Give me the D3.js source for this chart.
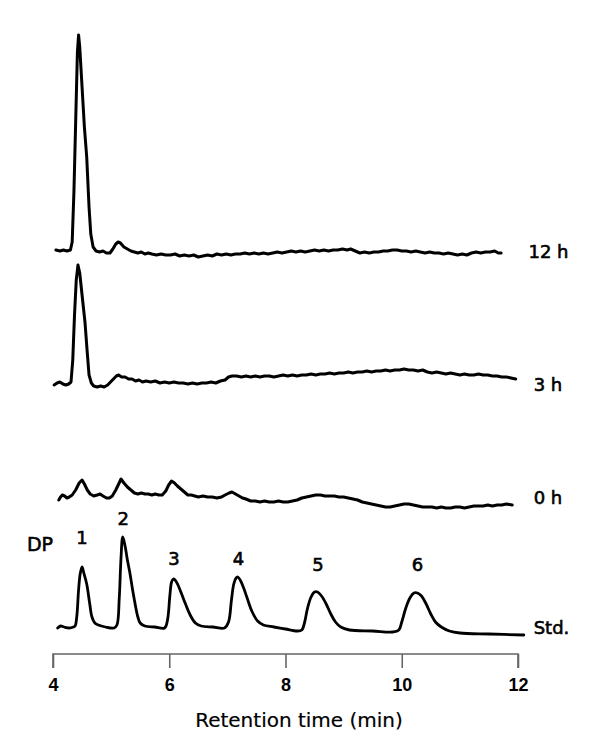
<!DOCTYPE html>
<html><head><meta charset="utf-8">
<script src="https://cdn.jsdelivr.net/npm/d3@7/dist/d3.min.js"></script>
<style>body{margin:0;background:#fff}svg{display:block}</style>
</head><body>
<svg id="chart" width="597" height="745"></svg>
<script>
// Retention time ticks (min)
const xTicks = [4, 6, 8, 10, 12];
// Trace names and vertical offsets (signal units)
const traceNames = ["12 h", "3 h", "0 h", "Std."];
const traceOffsets = [376, 243, 130, 0];
// Standard DP peaks
const dpLabels = ["1", "2", "3", "4", "5", "6"];
const dpTimes = [4.50, 5.21, 6.08, 7.19, 8.56, 10.27];
const dpLabelSignal = [89, 108, 68, 68, 62, 62];

const trace12h = [[4.05,2],[4.12,1],[4.18,2],[4.24,1],[4.30,2],[4.33,10],[4.36,60],[4.39,130],[4.42,200],[4.44,217],[4.46,205],[4.50,165],[4.54,125],[4.58,95],[4.62,45],[4.65,18],[4.69,5],[4.74,1],[4.80,0],[4.86,1],[4.92,-1],[4.98,-1],[5.03,3],[5.08,8],[5.12,10],[5.16,9],[5.22,5],[5.28,3],[5.34,1],[5.40,0],[5.46,-1],[5.52,0],[5.58,-2],[5.64,-1],[5.70,-2],[5.78,-3],[5.86,-2],[5.94,-3],[6.02,-3],[6.10,-2],[6.18,-4],[6.26,-3],[6.34,-4],[6.42,-3],[6.50,-5],[6.58,-4],[6.66,-3],[6.74,-4],[6.82,-2],[6.90,-3],[6.98,-2],[7.06,-3],[7.14,-2],[7.22,-2],[7.30,-1],[7.38,-2],[7.46,-1],[7.54,-2],[7.62,-1],[7.70,-2],[7.78,-1],[7.86,0],[7.94,-1],[8.02,0],[8.10,1],[8.18,0],[8.26,1],[8.34,0],[8.42,1],[8.50,2],[8.58,1],[8.66,2],[8.74,1],[8.82,2],[8.90,2],[8.98,3],[9.06,2],[9.12,3],[9.20,1],[9.28,-1],[9.36,0],[9.44,-1],[9.52,0],[9.60,0],[9.68,1],[9.76,1],[9.84,2],[9.92,2],[10.00,1],[10.08,1],[10.16,0],[10.24,1],[10.32,0],[10.40,-1],[10.48,0],[10.56,-1],[10.64,-1],[10.72,-2],[10.80,-1],[10.88,-2],[10.96,-3],[11.04,-2],[11.12,-3],[11.20,-1],[11.28,0],[11.36,-1],[11.44,0],[11.52,0],[11.60,1],[11.66,-1],[11.71,-1]];

const trace3h = [[4.02,0],[4.07,2],[4.12,3],[4.17,1],[4.22,0],[4.27,1],[4.31,3],[4.34,25],[4.37,70],[4.40,105],[4.43,120],[4.46,112],[4.50,90],[4.55,63],[4.59,32],[4.62,10],[4.66,2],[4.70,-1],[4.76,-2],[4.82,-1],[4.88,-2],[4.94,0],[4.99,3],[5.04,6],[5.09,9],[5.13,10],[5.18,8],[5.24,8],[5.30,6],[5.36,6],[5.42,4],[5.48,5],[5.54,3],[5.60,4],[5.68,3],[5.76,4],[5.84,2],[5.92,3],[6.00,2],[6.08,3],[6.16,2],[6.24,2],[6.32,1],[6.40,2],[6.48,1],[6.56,2],[6.64,2],[6.72,3],[6.80,2],[6.88,4],[6.96,5],[7.02,8],[7.08,9],[7.16,9],[7.24,8],[7.32,9],[7.40,8],[7.48,9],[7.56,8],[7.64,9],[7.72,9],[7.80,8],[7.88,9],[7.96,10],[8.04,9],[8.12,10],[8.20,9],[8.28,10],[8.36,10],[8.44,11],[8.52,10],[8.60,11],[8.68,11],[8.76,12],[8.84,11],[8.92,12],[9.00,12],[9.08,13],[9.16,12],[9.24,13],[9.32,13],[9.40,14],[9.48,13],[9.56,14],[9.64,14],[9.72,15],[9.80,14],[9.88,15],[9.96,15],[10.04,16],[10.12,15],[10.20,15],[10.28,14],[10.36,15],[10.44,13],[10.52,12],[10.60,13],[10.68,12],[10.76,11],[10.84,12],[10.92,11],[11.00,10],[11.08,11],[11.16,10],[11.24,10],[11.32,11],[11.40,10],[11.48,10],[11.56,9],[11.64,9],[11.72,8],[11.80,8],[11.88,7],[11.96,6]];

const trace0h = [[4.10,-2],[4.13,1],[4.16,3],[4.20,2],[4.24,0],[4.28,1],[4.33,3],[4.39,8],[4.45,15],[4.50,18],[4.54,14],[4.59,8],[4.64,4],[4.70,2],[4.76,3],[4.81,4],[4.86,2],[4.92,0],[4.97,0],[5.02,2],[5.08,8],[5.13,14],[5.17,19],[5.22,15],[5.28,11],[5.34,8],[5.40,5],[5.46,4],[5.52,5],[5.58,4],[5.64,4],[5.70,3],[5.76,4],[5.82,3],[5.88,3],[5.94,7],[5.99,13],[6.04,17],[6.09,15],[6.14,12],[6.20,9],[6.26,6],[6.32,3],[6.38,3],[6.44,2],[6.50,1],[6.58,2],[6.66,1],[6.74,1],[6.82,0],[6.90,1],[6.96,3],[7.03,5],[7.08,6],[7.14,4],[7.20,2],[7.26,0],[7.32,-1],[7.40,-3],[7.48,-3],[7.56,-4],[7.64,-3],[7.72,-4],[7.80,-4],[7.88,-3],[7.96,-4],[8.04,-4],[8.12,-3],[8.20,-2],[8.28,0],[8.36,1],[8.44,2],[8.52,3],[8.60,3],[8.68,2],[8.76,2],[8.84,2],[8.92,1],[9.00,1],[9.08,0],[9.16,-1],[9.24,-2],[9.32,-4],[9.40,-5],[9.48,-6],[9.56,-7],[9.64,-8],[9.72,-9],[9.80,-9],[9.88,-8],[9.96,-7],[10.04,-6],[10.12,-6],[10.20,-7],[10.28,-8],[10.36,-9],[10.44,-9],[10.52,-9],[10.60,-10],[10.68,-9],[10.76,-10],[10.84,-10],[10.92,-9],[11.00,-9],[11.08,-10],[11.16,-9],[11.24,-8],[11.32,-8],[11.40,-8],[11.48,-7],[11.56,-8],[11.64,-7],[11.72,-7],[11.80,-6],[11.90,-7]];

const traceStd = [[4.08,0],[4.13,2],[4.19,1],[4.28,0],[4.35,1],[4.38,2],[4.41,12],[4.44,38],[4.47,55],[4.50,61],[4.53,55],[4.58,44],[4.63,25],[4.67,11],[4.72,5],[4.78,3],[4.90,1],[5.05,0],[5.10,3],[5.14,30],[5.17,70],[5.20,91],[5.24,82],[5.28,68],[5.32,56],[5.37,38],[5.41,25],[5.46,11],[5.50,5],[5.58,2],[5.75,1],[5.92,0],[5.97,8],[6.01,32],[6.04,46],[6.07,49],[6.10,48],[6.15,43],[6.20,36],[6.28,24],[6.36,13],[6.45,5],[6.55,2],[6.75,1],[6.95,0],[7.02,6],[7.07,28],[7.11,44],[7.15,50],[7.18,51],[7.22,48],[7.28,40],[7.34,30],[7.42,17],[7.52,7],[7.62,3],[7.80,1],[8.00,-1],[8.20,-3],[8.28,-2],[8.33,6],[8.38,20],[8.44,31],[8.50,36],[8.55,36],[8.62,32],[8.70,24],[8.78,14],[8.86,6],[8.95,1],[9.10,-2],[9.50,-3],[9.85,-4],[9.95,-2],[10.00,6],[10.07,20],[10.14,30],[10.21,35],[10.27,35],[10.34,32],[10.42,24],[10.50,14],[10.58,6],[10.68,1],[10.82,-3],[11.00,-5],[11.50,-6],[12.10,-7]];

const traces = [trace12h, trace3h, trace0h, traceStd];
const labelTimes = [12.18, 12.27, 12.27, 12.27];

const svg = d3.select("#chart");
const x = d3.scaleLinear().domain([4, 12]).range([53, 518]);
const y = d3.scaleLinear().domain([0, 600]).range([628, 28]);

const font = "'DejaVu Sans',sans-serif";
const tickFont = "'Liberation Sans',Arial,sans-serif";

const line = d3.line().x(d => x(d[0])).y(d => y(d[1]));

function label(sel) {
  return sel.attr("font-family", font)
    .attr("fill", "#000")
    .attr("stroke", "#000")
    .attr("stroke-width", 0.6);
}

traces.forEach((tr, i) => {
  const off = traceOffsets[i];
  const isStd = i === 3;
  svg.append("path")
    .datum(tr.map(p => [p[0], p[1] + off]))
    .attr("fill", "none")
    .attr("stroke", "#000")
    .attr("stroke-width", isStd ? 2.8 : 3)
    .attr("stroke-linejoin", "round")
    .attr("stroke-linecap", "round")
    .attr("d", line.curve(isStd ? d3.curveCatmullRom : d3.curveLinear));
  svg.append("text")
    .attr("x", x(labelTimes[i]))
    .attr("y", y(off) + 1)
    .attr("dominant-baseline", "middle")
    .attr("font-size", 18)
    .call(label)
    .text(traceNames[i]);
});

// DP peak labels
dpLabels.forEach((lab, i) => {
  svg.append("text")
    .attr("x", x(dpTimes[i]))
    .attr("y", y(dpLabelSignal[i]))
    .attr("text-anchor", "middle")
    .attr("dominant-baseline", "middle")
    .attr("font-size", 18)
    .call(label)
    .text(lab);
});
svg.append("text")
  .attr("x", 40).attr("y", 545)
  .attr("text-anchor", "middle")
  .attr("dominant-baseline", "middle")
  .attr("font-size", 19)
  .call(label)
  .text("DP");

// X axis
const axis = d3.axisBottom(x).tickValues(xTicks).tickSize(14).tickPadding(10).tickFormat(d3.format("d"));
const ag = svg.append("g").attr("transform", "translate(0,654)").call(axis);
ag.select(".domain").attr("stroke", "#666").attr("stroke-width", 1.6).attr("d", `M${x(4)},14V0H${x(12)}V14`);
ag.selectAll(".tick line").attr("stroke", "#666").attr("stroke-width", 1.6);
ag.selectAll(".tick text").attr("fill", "#000").attr("font-family", tickFont).attr("font-size", 18).attr("font-weight", 700);

svg.append("text")
  .attr("x", 299)
  .attr("y", 727)
  .attr("text-anchor", "middle")
  .attr("font-family", font)
  .attr("font-size", 20)
  .attr("fill", "#000")
  .attr("stroke", "#000")
  .attr("stroke-width", 0.2)
  .text("Retention time (min)");
</script>
</body></html>
